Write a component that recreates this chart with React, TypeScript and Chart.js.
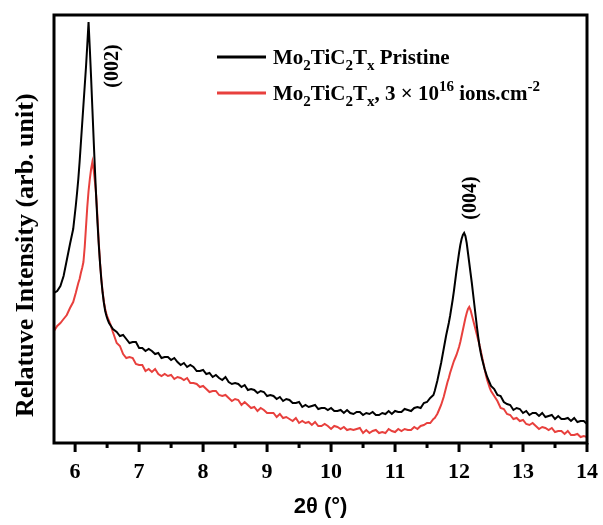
import React, { useEffect, useRef } from 'react';
import { Chart, registerables } from 'chart.js';

Chart.register(...registerables);

// 2θ (deg), relative intensity (arb. unit)
const pristine: [number, number][] = [
  [5.67, 150], [5.72, 152], [5.77, 157], [5.82, 167], [5.87, 183], [5.92, 199], [5.97, 214],
  [6.01, 237], [6.03, 250], [6.05, 264], [6.07, 281], [6.09, 300], [6.11, 319], [6.13, 338], [6.15, 357],
  [6.17, 376], [6.19, 398], [6.21, 421], [6.23, 394], [6.25, 365], [6.27, 334], [6.29, 303], [6.31, 273],
  [6.33, 245], [6.35, 220], [6.37, 198], [6.39, 179], [6.41, 163], [6.43, 150], [6.45, 140], [6.47, 132],
  [6.49, 127], [6.51, 123], [6.53, 120], [6.55, 118], [6.57, 116], [6.59, 114],
  [6.65, 111], [6.70, 107], [6.75, 108], [6.80, 104], [6.85, 100], [6.90, 101], [6.95, 101], [7.00, 95],
  [7.05, 95], [7.10, 92], [7.15, 94], [7.20, 92], [7.25, 89], [7.30, 90], [7.35, 85], [7.40, 86],
  [7.45, 86], [7.50, 83], [7.55, 85], [7.60, 81], [7.65, 78], [7.70, 80], [7.75, 76], [7.80, 78],
  [7.85, 76], [7.90, 72], [7.95, 72], [8.00, 73], [8.05, 69], [8.10, 70], [8.15, 66], [8.20, 68],
  [8.25, 65], [8.30, 63], [8.35, 66], [8.40, 61], [8.45, 59], [8.50, 60], [8.55, 59], [8.60, 56],
  [8.65, 58], [8.70, 53], [8.75, 54], [8.80, 53], [8.85, 50], [8.90, 52], [8.95, 51], [9.00, 47],
  [9.05, 48], [9.10, 47], [9.15, 44], [9.20, 46], [9.25, 42], [9.30, 44], [9.35, 43], [9.40, 40],
  [9.45, 40], [9.50, 41], [9.55, 36], [9.60, 38], [9.65, 36], [9.70, 37], [9.75, 38], [9.80, 34],
  [9.85, 35], [9.90, 35], [9.95, 33], [10.00, 35], [10.05, 32], [10.10, 32], [10.15, 33], [10.20, 30],
  [10.25, 33], [10.30, 30], [10.35, 29], [10.40, 31], [10.45, 31], [10.50, 28], [10.55, 30], [10.60, 29],
  [10.65, 31], [10.70, 28], [10.75, 28], [10.80, 30], [10.85, 29], [10.90, 32], [10.95, 29], [11.00, 32],
  [11.05, 31], [11.10, 31], [11.15, 34], [11.20, 33], [11.25, 32], [11.30, 35], [11.35, 36], [11.40, 35],
  [11.45, 40], [11.50, 41], [11.55, 45], [11.60, 48],
  [11.62, 52], [11.64, 57], [11.66, 62], [11.68, 68], [11.70, 74], [11.72, 80], [11.74, 87], [11.76, 94],
  [11.78, 101], [11.80, 108], [11.82, 114], [11.84, 120], [11.86, 127], [11.88, 135], [11.90, 143],
  [11.92, 152], [11.94, 162], [11.96, 172], [11.98, 181], [12.00, 190], [12.02, 198], [12.04, 204],
  [12.06, 208], [12.08, 210], [12.10, 207], [12.12, 200], [12.14, 190], [12.16, 180], [12.18, 170],
  [12.20, 160], [12.22, 149], [12.24, 138], [12.26, 127], [12.28, 116], [12.30, 106], [12.32, 97],
  [12.34, 90], [12.36, 84], [12.38, 79], [12.40, 74], [12.42, 70], [12.44, 66], [12.46, 63], [12.48, 60],
  [12.50, 57],
  [12.55, 54], [12.60, 48], [12.65, 47], [12.70, 41], [12.75, 39], [12.80, 38], [12.85, 33], [12.90, 35],
  [12.95, 34], [13.00, 30], [13.05, 32], [13.10, 28], [13.15, 30], [13.20, 30], [13.25, 27], [13.30, 30],
  [13.35, 26], [13.40, 27], [13.45, 28], [13.50, 24], [13.55, 27], [13.60, 24], [13.65, 24], [13.70, 25],
  [13.75, 22], [13.80, 25], [13.85, 21], [13.90, 22], [13.95, 22], [14.00, 19],
];

const irradiated: [number, number][] = [
  [5.67, 112], [5.72, 117], [5.77, 120], [5.82, 124], [5.87, 128], [5.92, 135], [5.97, 141],
  [6.01, 150], [6.03, 155], [6.05, 160], [6.07, 164], [6.09, 170], [6.11, 175], [6.13, 181], [6.15, 196],
  [6.17, 216], [6.19, 236], [6.21, 252], [6.23, 264], [6.25, 274], [6.27, 281], [6.29, 273], [6.31, 261],
  [6.33, 247], [6.35, 225], [6.37, 200], [6.39, 180], [6.41, 164], [6.43, 151], [6.45, 141], [6.47, 134],
  [6.49, 129], [6.51, 125], [6.53, 122], [6.55, 119], [6.57, 115], [6.59, 111],
  [6.65, 100], [6.70, 97], [6.75, 89], [6.80, 85], [6.85, 86], [6.90, 85], [6.95, 79], [7.00, 78],
  [7.05, 78], [7.10, 72], [7.15, 74], [7.20, 71], [7.25, 74], [7.30, 69], [7.35, 67], [7.40, 69],
  [7.45, 67], [7.50, 68], [7.55, 64], [7.60, 66], [7.65, 65], [7.70, 63], [7.75, 65], [7.80, 60],
  [7.85, 60], [7.90, 59], [7.95, 56], [8.00, 57], [8.05, 54], [8.10, 51], [8.15, 52], [8.20, 52],
  [8.25, 48], [8.30, 47], [8.35, 48], [8.40, 45], [8.45, 42], [8.50, 44], [8.55, 43], [8.60, 38],
  [8.65, 41], [8.70, 38], [8.75, 35], [8.80, 36], [8.85, 32], [8.90, 35], [8.95, 33], [9.00, 30],
  [9.05, 30], [9.10, 30], [9.15, 26], [9.20, 29], [9.25, 25], [9.30, 26], [9.35, 24], [9.40, 22],
  [9.45, 25], [9.50, 20], [9.55, 22], [9.60, 20], [9.65, 21], [9.70, 18], [9.75, 21], [9.80, 17],
  [9.85, 17], [9.90, 19], [9.95, 17], [10.00, 14], [10.05, 17], [10.10, 16], [10.15, 14], [10.20, 16],
  [10.25, 13], [10.30, 14], [10.35, 13], [10.40, 14], [10.45, 15], [10.50, 10], [10.55, 13], [10.60, 10],
  [10.65, 12], [10.70, 13], [10.75, 10], [10.80, 11], [10.85, 10], [10.90, 14], [10.95, 12], [11.00, 11],
  [11.05, 14], [11.10, 12], [11.15, 14], [11.20, 13], [11.25, 13], [11.30, 16], [11.35, 14], [11.40, 17],
  [11.45, 18], [11.50, 20], [11.55, 20], [11.60, 24],
  [11.62, 25], [11.64, 27], [11.66, 29], [11.68, 32], [11.70, 35], [11.72, 38], [11.74, 42], [11.76, 46],
  [11.78, 51], [11.80, 56], [11.82, 61], [11.84, 65], [11.86, 70], [11.88, 74], [11.90, 78], [11.92, 82],
  [11.94, 85], [11.96, 88], [11.98, 92], [12.00, 96], [12.02, 101], [12.04, 107], [12.06, 113],
  [12.08, 119], [12.10, 125], [12.12, 130], [12.14, 134], [12.16, 136], [12.18, 133], [12.20, 128],
  [12.22, 123], [12.24, 118], [12.26, 113], [12.28, 108], [12.30, 103], [12.32, 98], [12.34, 92],
  [12.36, 86], [12.38, 80], [12.40, 74], [12.42, 68], [12.44, 63], [12.46, 59], [12.48, 55], [12.50, 52],
  [12.55, 47], [12.60, 42], [12.65, 35], [12.70, 34], [12.75, 29], [12.80, 28], [12.85, 24], [12.90, 25],
  [12.95, 22], [13.00, 23], [13.05, 19], [13.10, 18], [13.15, 20], [13.20, 17], [13.25, 14], [13.30, 16],
  [13.35, 15], [13.40, 13], [13.45, 15], [13.50, 11], [13.55, 12], [13.60, 12], [13.65, 9], [13.70, 12],
  [13.75, 8], [13.80, 8], [13.85, 9], [13.90, 6], [13.95, 7], [14.00, 6],
];

const xTickValues = [6, 7, 8, 9, 10, 11, 12, 13, 14];
const xMinorTickValues = [6.5, 7.5, 8.5, 9.5, 10.5, 11.5, 12.5, 13.5];

type Part = { t: string; s?: 'sub' | 'sup' };
const seriesNames = ['Mo2TiC2Tx Pristine', 'Mo2TiC2Tx, 3 × 10^16 ions.cm^-2'];
const legendPristine: Part[] = [
  { t: 'Mo' }, { t: '2', s: 'sub' }, { t: 'TiC' }, { t: '2', s: 'sub' }, { t: 'T' }, { t: 'x', s: 'sub' },
  { t: ' Pristine' },
];
const legendIrradiated: Part[] = [
  { t: 'Mo' }, { t: '2', s: 'sub' }, { t: 'TiC' }, { t: '2', s: 'sub' }, { t: 'T' }, { t: 'x', s: 'sub' },
  { t: ', 3 × 10' }, { t: '16', s: 'sup' }, { t: ' ions.cm' }, { t: '-2', s: 'sup' },
];
const legendParts = [legendPristine, legendIrradiated];

const yTitle = 'Relatuve Intensity (arb. unit)';
const xTitle = '2θ (°)';

const peakLabels = [
  { text: '(002)', x: 6.59, y: 377 },
  { text: '(004)', x: 12.19, y: 245 },
];

const SERIF = '"Liberation Serif", "Times New Roman", serif';

function drawRich(ctx: CanvasRenderingContext2D, parts: Part[], x0: number, baseline: number, size: number) {
  let cx = x0;
  parts.forEach((p) => {
    const fs = p.s ? Math.round(size * 0.7) : size;
    ctx.font = `bold ${fs}px ${SERIF}`;
    const dy = p.s === 'sub' ? size * 0.28 : p.s === 'sup' ? -size * 0.42 : 0;
    ctx.fillText(p.t, cx, baseline + dy);
    cx += ctx.measureText(p.t).width;
  });
}

const decorPlugin = {
  id: 'decor',
  afterDatasetsDraw(chart: any) {
    const { ctx, chartArea: a, scales } = chart;
    const xs = scales.x;
    const ys = scales.y;
    ctx.save();
    // frame
    ctx.strokeStyle = '#000';
    ctx.lineWidth = 3;
    ctx.strokeRect(a.left, a.top, a.right - a.left, a.bottom - a.top);
    // major ticks
    ctx.beginPath();
    xTickValues.forEach((v) => {
      const px = xs.getPixelForValue(v);
      ctx.moveTo(px, a.bottom);
      ctx.lineTo(px, a.bottom + 9);
    });
    ctx.stroke();
    // minor ticks
    ctx.beginPath();
    xMinorTickValues.forEach((v) => {
      const px = xs.getPixelForValue(v);
      ctx.moveTo(px, a.bottom);
      ctx.lineTo(px, a.bottom + 5);
    });
    ctx.stroke();
    // y axis title
    ctx.fillStyle = '#000';
    ctx.save();
    ctx.font = `bold 26px ${SERIF}`;
    ctx.textAlign = 'left';
    ctx.textBaseline = 'alphabetic';
    ctx.translate(a.left - 21, a.bottom - 26);
    ctx.rotate(-Math.PI / 2);
    ctx.fillText(yTitle, 0, 0);
    ctx.restore();
    // peak labels
    ctx.font = `bold 20px ${SERIF}`;
    ctx.textAlign = 'center';
    ctx.textBaseline = 'middle';
    peakLabels.forEach((p) => {
      ctx.save();
      ctx.translate(xs.getPixelForValue(p.x), ys.getPixelForValue(p.y));
      ctx.rotate(-Math.PI / 2);
      ctx.fillText(p.text, 0, 0);
      ctx.restore();
    });
    // legend
    ctx.textAlign = 'left';
    ctx.textBaseline = 'alphabetic';
    chart.data.datasets.forEach((ds: any, i: number) => {
      const ly = a.top + 42 + i * 36;
      ctx.strokeStyle = ds.borderColor;
      ctx.lineWidth = 3;
      ctx.beginPath();
      ctx.moveTo(a.left + 163, ly);
      ctx.lineTo(a.left + 212, ly);
      ctx.stroke();
      ctx.fillStyle = '#000';
      drawRich(ctx, legendParts[i], a.left + 219, ly + 7, 21);
    });
    ctx.restore();
  },
};

export default function App() {
  const ref = useRef<HTMLCanvasElement | null>(null);
  useEffect(() => {
    if (!ref.current) return;
    const chart = new Chart(ref.current, {
      type: 'line',
      data: {
        datasets: [
          {
            label: seriesNames[0],
            data: pristine.map(([x, y]) => ({ x, y })),
            borderColor: '#000000',
            borderWidth: 2,
            pointRadius: 0,
            tension: 0,
            fill: false,
          },
          {
            label: seriesNames[1],
            data: irradiated.map(([x, y]) => ({ x, y })),
            borderColor: '#e8403d',
            borderWidth: 2,
            pointRadius: 0,
            tension: 0,
            fill: false,
          },
        ],
      },
      options: {
        animation: false,
        responsive: true,
        maintainAspectRatio: false,
        layout: { padding: { top: 15, right: 16, left: 54, bottom: 0 } },
        plugins: { legend: { display: false }, tooltip: { enabled: false } },
        scales: {
          x: {
            type: 'linear',
            min: 5.67,
            max: 14,
            grid: { display: false, drawTicks: false },
            border: { display: false },
            afterBuildTicks: (s: any) => {
              s.ticks = xTickValues.map((v) => ({ value: v }));
            },
            afterFit: (s: any) => {
              s.height = 82;
              s.paddingLeft = 0;
              s.paddingRight = 0;
            },
            ticks: {
              color: '#000',
              padding: 16,
              maxRotation: 0,
              font: { family: SERIF, size: 22, weight: 'bold' },
            },
            title: {
              display: true,
              text: xTitle,
              color: '#000',
              padding: { top: 0, bottom: 5 },
              font: { family: '"Liberation Sans", Arial, sans-serif', size: 22, weight: 'bold' },
            },
          },
          y: {
            type: 'linear',
            display: false,
            min: 0,
            max: 428,
          },
        },
      },
      plugins: [decorPlugin],
    } as any);
    return () => chart.destroy();
  }, []);
  return (
    <div style={{ position: 'absolute', left: 0, top: 0, width: 603, height: 525 }}>
      <canvas ref={ref} />
    </div>
  );
}
